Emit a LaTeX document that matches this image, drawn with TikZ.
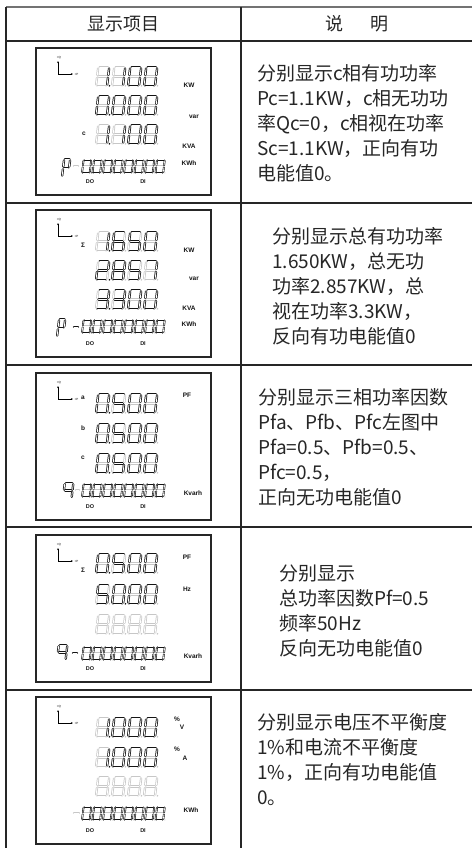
\documentclass[tikz,border=0pt]{standalone}
\usepackage{fontspec}
\newfontfamily\cjk{Noto Sans CJK SC}
\newfontfamily\lcdfont{Liberation Sans}
\usetikzlibrary{arrows.meta}

\definecolor{segon}{gray}{0.08}
\definecolor{segoff}{gray}{0.78}
\definecolor{rule}{gray}{0.15}

% seven segments of one digit (11 x 19, origin bottom left)
\newcommand\lcdsega{(1.5,19)--(9.5,19)}
\newcommand\lcdsegb{(11,17.5)--(11,11)}
\newcommand\lcdsegc{(11,8)--(11,1.5)}
\newcommand\lcdsegd{(1.5,0)--(9.5,0)}
\newcommand\lcdsege{(0,8)--(0,1.5)}
\newcommand\lcdsegf{(0,17.5)--(0,11)}
\newcommand\lcdsegg{(1.5,9.5)--(9.5,9.5)}
\newcommand\lcdsegx{}
\def\lcddef#1#2{\expandafter\def\csname dg#1\endcsname{#2}}
\lcddef0{a,b,c,d,e,f}
\lcddef1{b,c}
\lcddef2{a,b,g,e,d}
\lcddef3{a,b,g,c,d}
\lcddef5{a,f,g,c,d}
\lcddef6{a,f,g,e,d,c}
\lcddef7{a,b,c}
\lcddef8{a,b,c,d,e,f,g}
\lcddef P{a,b,e,f,g}
\lcddef q{a,b,c,f,g}
\lcddef x{x}

% one digit: [options]{bottom left}{symbol}{colour of the point}
\newcommand\lcdd[4][]{%
  \edef\lcdlist{\csname dg#3\endcsname}%
  \begin{scope}[shift={#2},x=1pt,y=1pt,xslant=.12,#1]
    \foreach \s in {a,b,c,d,e,f,g} \draw[offseg] \csname lcdseg\s\endcsname;
    \foreach \s in \lcdlist \draw[onseg] \csname lcdseg\s\endcsname;
    \foreach \s in {a,b,c,d,e,f,g} \draw[segin] \csname lcdseg\s\endcsname;
    \fill[fill=#4] (13.4,.2) circle (.9);
  \end{scope}}

% four big digits: {bottom}{digits}{digit with the lit point}
\newcommand\lcdrow[3]{%
  \foreach \d [count=\i from 0] in {#2} {%
    \ifnum\i=#3 \def\lcdpt{segon}\else\def\lcdpt{segoff}\fi
    \lcdd{(60+16*\i,#1)}{\d}{\lcdpt}}}

% eight small digits of the energy line
\newcommand\lcdenergy[1]{%
  \lcdd[scale=.7,small]{(46,#1)}{0}{segon}
  \foreach \i in {1,...,7} {\lcdd[scale=.7,small]{(46+10.5*\i,#1)}{0}{segoff}}}

% short dash in front of the energy line
\newcommand\lcddash[4]{\draw[#4] (#1,#3) -- (#2,#3); \draw[segin] (#1,#3) -- (#2,#3);}

% frame, axes and DO/DI of one display
\newcommand\lcdframe{%
  \draw[panel] (0,0) rectangle (175,147);
  \draw[{Stealth[length=2.2pt,width=1.8pt]}-{Stealth[length=2.2pt,width=1.8pt]}, line width=.6pt]
    (22,13) -- (22,26) -- (37,26);
  \node[tinylbl] (pq) at (23,9.5) {+Q};
  \node[tinylbl] (pp) at (40.5,26) {+P};
  \node[io] (do) at (54,134) {DO};
  \node[io] (di) at (107,134) {DI};}

\begin{document}
\begin{tikzpicture}[x=1pt, y=-1pt,
    segout/.style={line cap=round, line width=2.3pt},
    segin/.style={line cap=round, line width=.8pt, draw=white},
    small/.style={segout/.append style={line width=1.8pt}, segin/.append style={line width=.6pt}},
    onseg/.style={segout, draw=segon},
    offseg/.style={segout, draw=segoff},
    unit/.style={font=\lcdfont\bfseries\fontsize{6.5}{6.5}\selectfont, inner sep=0, text=segon},
    io/.style={font=\lcdfont\bfseries\fontsize{5.5}{5.5}\selectfont, inner sep=0, text=segon},
    phase/.style={font=\lcdfont\bfseries\fontsize{6.5}{6.5}\selectfont, inner sep=0, text=segon},
    tinylbl/.style={font=\lcdfont\fontsize{3}{3}\selectfont, inner sep=0},
    panel/.style={draw=rule, line width=1.1pt},
    rowline/.style={draw=rule, line width=1.4pt},
    head/.style={font=\cjk\fontsize{18}{18}\selectfont, inner sep=0, text=black!85},
    note/.style={font=\cjk\fontsize{19}{25}\selectfont, align=left, anchor=north west,
                 inner sep=0, text=black!85}]

  \useasboundingbox (0,0) rectangle (472,848);

  % table
  \draw[line width=1.2pt, draw=black!55] (6,7) -- (472,7);
  \draw[rowline, line width=2pt] (6,41) -- (472,41);
  \foreach \y in {203,365,527,690} \draw[rowline] (6,\y) -- (472,\y);
  \draw[rowline] (6,7) -- (6,848);
  \draw[rowline] (241,7) -- (241,848);

  \node[head] at (123.5,24) (hitem) {显示项目};
  \node[head] at (357,24)   (hnote) {说\hspace{1.5em}明};

  % display 1
  \begin{scope}[shift={(36,48)}]
    \lcdframe
    \lcdrow{38}{1,1,0,0}{0}
    \lcdrow{67}{0,0,0,0}{0}
    \lcdrow{96}{1,1,0,0}{0}
    \node[phase] at (48,86) (c1) {c};
    \lcdd[xscale=.55,yscale=.95,offseg/.style={draw=none}]{(26,129)}{P}{none}
    \lcddash{38}{42}{118}{offseg}
    \lcdenergy{125}
    \node[unit] at (153,37)  (kw1)  {KW};
    \node[unit] at (158,69)  (var1) {var};
    \node[unit] at (153,98)  (kva1) {KVA};
    \node[unit] at (153,115) (kwh1) {KWh};
  \end{scope}

  % display 2
  \begin{scope}[shift={(36,210)}]
    \lcdframe
    \lcdrow{41}{1,6,5,0}{0}
    \lcdrow{70}{2,8,5,7}{0}
    \lcdrow{99}{3,3,0,0}{0}
    \node[phase] at (47,35) (s2) {Σ};
    \lcdd[xscale=.55,yscale=.95,offseg/.style={draw=none}]{(21,127)}{P}{none}
    \lcddash{38}{42}{117}{onseg}
    \lcdenergy{123}
    \node[unit] at (153,40)  (kw2)  {KW};
    \node[unit] at (158,69)  (var2) {var};
    \node[unit] at (153,98)  (kva2) {KVA};
    \node[unit] at (153,114) (kwh2) {KWh};
  \end{scope}

  % display 3
  \begin{scope}[shift={(36,373)}]
    \lcdframe
    \lcdrow{40}{0,5,0,0}{0}
    \lcdrow{70}{0,5,0,0}{0}
    \lcdrow{100}{0,5,0,0}{0}
    \node[phase] at (47,25) (a3) {a};
    \node[phase] at (47,55) (b3) {b};
    \node[phase] at (47,85) (c3) {c};
    \lcdd[scale=.78,offseg/.style={draw=none}]{(27,125)}{q}{none}
    \lcddash{40}{43}{117}{offseg}
    \lcdenergy{124}
    \node[unit] at (151,22)  (pf3)   {PF};
    \node[unit] at (157,120) (kvarh3) {Kvarh};
  \end{scope}

  % display 4
  \begin{scope}[shift={(36,535)}]
    \lcdframe
    \lcdrow{38}{0,5,0,0}{0}
    \lcdrow{69}{5,0,0,0}{1}
    \lcdrow{99}{x,x,x,x}{-1}
    \node[phase] at (47,35) (s4) {Σ};
    \lcdd[scale=.78,offseg/.style={draw=none}]{(21,125)}{q}{none}
    \lcddash{37}{41}{118}{onseg}
    \lcdenergy{125}
    \node[unit] at (151,22)  (pf4)    {PF};
    \node[unit] at (151,54)  (hz4)    {Hz};
    \node[unit] at (157,121) (kvarh4) {Kvarh};
  \end{scope}

  % display 5
  \begin{scope}[shift={(36,697)}]
    \lcdframe
    \lcdrow{40}{1,0,0,0}{0}
    \lcdrow{70}{1,0,0,0}{0}
    \lcdrow{99}{x,x,x,x}{-1}
    \lcddash{38}{43}{116}{offseg}
    \lcdenergy{123}
    \node[unit] at (141,22)  (pc5a) {\%};
    \node[unit] at (146,30)  (v5)   {V};
    \node[unit] at (141,52)  (pc5b) {\%};
    \node[unit] at (149,61)  (a5)   {A};
    \node[unit] at (155,113) (kwh5) {KWh};
  \end{scope}

  % notes
  \node[note] at (257,64) (n1) {分别显示c相有功功率\\Pc=1.1KW，c相无功功\\率Qc=0，c相视在功率\\Sc=1.1KW，正向有功\\电能值0。};
  \node[note] at (272,227) (n2) {分别显示总有功功率\\1.650KW，总无功\\功率2.857KW，总\\视在功率3.3KW，\\反向有功电能值0};
  \node[note] at (258,388) (n3) {分别显示三相功率因数\\Pfa、Pfb、Pfc左图中\\Pfa=0.5、Pfb=0.5、\\Pfc=0.5，\\正向无功电能值0};
  \node[note] at (279,565) (n4) {分别显示\\总功率因数Pf=0.5\\频率50Hz\\反向无功电能值0};
  \node[note] at (257,713) (n5) {分别显示电压不平衡度\\1\%和电流不平衡度\\1\%，正向有功电能值\\0。};

\end{tikzpicture}
\end{document}
